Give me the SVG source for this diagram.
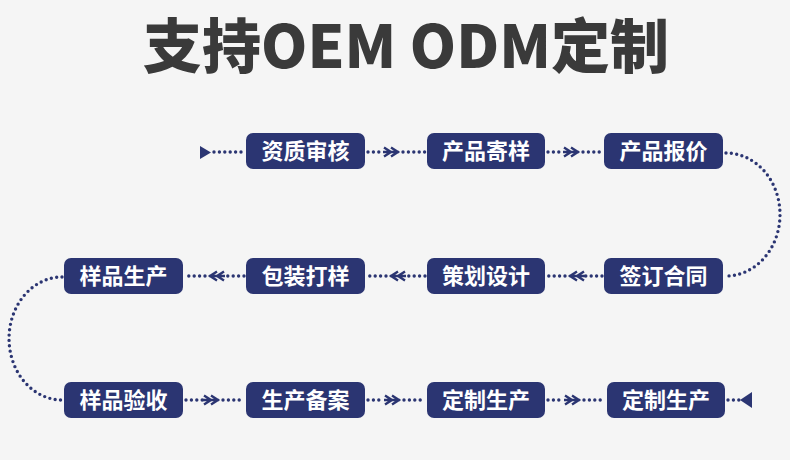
<svg xmlns="http://www.w3.org/2000/svg" width="790" height="460" viewBox="0 0 790 460">
<style>
.bg{fill:#f5f5f5}
.title{font-family:"Noto Sans CJK SC","Noto Sans",sans-serif;font-weight:900;font-size:59px;fill:#3a3a3a}
.box{fill:#2b3572}
.lbl{font-family:"Noto Sans CJK SC","Noto Sans",sans-serif;font-weight:700;font-size:22px;fill:#ffffff}
.dot{fill:none;stroke:#2b3572;stroke-width:3.4;stroke-dasharray:0 5.4;stroke-linecap:round}
.chev{fill:none;stroke:#2b3572;stroke-width:2.4;stroke-linejoin:miter}
.tri{fill:#2b3572}
</style>
<defs>
<g id="chevR"><path class="chev" d="M-8,-4.5 L-1,0 L-8,4.5 M-1,-4.5 L6,0 L-1,4.5 M-9,0 L7,0"/></g>
<g id="chevL"><path class="chev" d="M8,-4.5 L1,0 L8,4.5 M1,-4.5 L-6,0 L1,4.5 M9,0 L-7,0"/></g>
</defs>
<rect class="bg" x="0" y="0" width="790" height="460"/>
<text class="title" x="406" y="68" text-anchor="middle">支持OEM ODM定制</text>

<g id="connectors">
  <!-- start -->
  <polygon class="tri" points="200,146 200,159 211,152.5"/>
  <line class="dot" x1="214" y1="152" x2="244" y2="152"/>
  <!-- row 1 -->
  <line class="dot" x1="368" y1="152" x2="384" y2="152"/>
  <use href="#chevR" x="392" y="152"/>
  <line class="dot" x1="403" y1="152" x2="425" y2="152"/>
  <line class="dot" x1="548" y1="152" x2="563" y2="152"/>
  <use href="#chevR" x="572" y="152"/>
  <line class="dot" x1="583" y1="152" x2="602" y2="152"/>
  <!-- right curve -->
  <path class="dot" d="M726,153 A54 61.5 0 0 1 726,276"/>
  <!-- row 2 -->
  <line class="dot" x1="602" y1="276" x2="585" y2="276"/>
  <use href="#chevL" x="576" y="276"/>
  <line class="dot" x1="565" y1="276" x2="548" y2="276"/>
  <line class="dot" x1="425" y1="276" x2="406" y2="276"/>
  <use href="#chevL" x="397" y="276"/>
  <line class="dot" x1="386" y1="276" x2="368" y2="276"/>
  <line class="dot" x1="244" y1="276" x2="225" y2="276"/>
  <use href="#chevL" x="216" y="276"/>
  <line class="dot" x1="205" y1="276" x2="186" y2="276"/>
  <!-- left curve -->
  <path class="dot" d="M62,277 A53 61.5 0 0 0 62,400"/>
  <!-- row 3 -->
  <line class="dot" x1="186" y1="400" x2="203" y2="400"/>
  <use href="#chevR" x="212" y="400"/>
  <line class="dot" x1="223" y1="400" x2="244" y2="400"/>
  <line class="dot" x1="368" y1="400" x2="384" y2="400"/>
  <use href="#chevR" x="393" y="400"/>
  <line class="dot" x1="404" y1="400" x2="425" y2="400"/>
  <line class="dot" x1="548" y1="400" x2="564" y2="400"/>
  <use href="#chevR" x="573" y="400"/>
  <line class="dot" x1="584" y1="400" x2="605" y2="400"/>
  <!-- end -->
  <line class="dot" x1="728" y1="400" x2="740" y2="400"/>
  <polygon class="tri" points="752,392 752,408 740,400"/>
</g>

<g id="n1"><rect class="box" x="246" y="133" width="119" height="36" rx="7"/><text class="lbl" x="305.5" y="159" text-anchor="middle">资质审核</text></g>
<g id="n2"><rect class="box" x="427" y="133" width="118" height="36" rx="7"/><text class="lbl" x="486" y="159" text-anchor="middle">产品寄样</text></g>
<g id="n3"><rect class="box" x="604" y="133" width="119" height="36" rx="7"/><text class="lbl" x="663.5" y="159" text-anchor="middle">产品报价</text></g>
<g id="n4"><rect class="box" x="604" y="258" width="119" height="36" rx="7"/><text class="lbl" x="663.5" y="284" text-anchor="middle">签订合同</text></g>
<g id="n5"><rect class="box" x="427" y="258" width="118" height="36" rx="7"/><text class="lbl" x="486" y="284" text-anchor="middle">策划设计</text></g>
<g id="n6"><rect class="box" x="246" y="258" width="119" height="36" rx="7"/><text class="lbl" x="305.5" y="284" text-anchor="middle">包装打样</text></g>
<g id="n7"><rect class="box" x="64" y="258" width="119" height="36" rx="7"/><text class="lbl" x="123.5" y="284" text-anchor="middle">样品生产</text></g>
<g id="n8"><rect class="box" x="64" y="382" width="119" height="36" rx="7"/><text class="lbl" x="123.5" y="408" text-anchor="middle">样品验收</text></g>
<g id="n9"><rect class="box" x="246" y="382" width="119" height="36" rx="7"/><text class="lbl" x="305.5" y="408" text-anchor="middle">生产备案</text></g>
<g id="n10"><rect class="box" x="427" y="382" width="118" height="36" rx="7"/><text class="lbl" x="486" y="408" text-anchor="middle">定制生产</text></g>
<g id="n11"><rect class="box" x="607" y="382" width="118" height="36" rx="7"/><text class="lbl" x="666" y="408" text-anchor="middle">定制生产</text></g>
</svg>
